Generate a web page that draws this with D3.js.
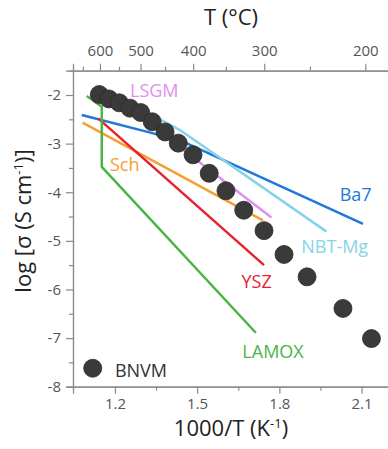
<!DOCTYPE html>
<html>
<head>
<meta charset="utf-8">
<script src="https://cdn.jsdelivr.net/npm/d3@7"></script>
<style>
  body { margin: 0; background: #fff; }
  text { font-family: "Open Sans", sans-serif; }
</style>
</head>
<body>
<script>
"use strict";

// BNVM measured points (1000/T, log sigma)
const bnvmX = [1.143, 1.178, 1.216, 1.255, 1.294, 1.336, 1.383, 1.431, 1.485, 1.544, 1.605, 1.670, 1.744, 1.817, 1.901, 2.032, 2.136];
const bnvmY = [-1.99, -2.08, -2.16, -2.27, -2.36, -2.55, -2.76, -2.99, -3.23, -3.61, -3.97, -4.37, -4.79, -5.28, -5.74, -6.39, -7.01];

// reference electrolytes
const ba7X = [1.079, 1.340, 1.461, 2.105];
const ba7Y = [-2.41, -2.79, -2.99, -4.65];
const nbtX = [1.150, 1.358, 1.437, 1.972];
const nbtY = [-1.96, -2.48, -2.72, -4.81];
const lsgmX = [1.157, 1.771];
const lsgmY = [-1.86, -4.52];
const schX = [1.082, 1.740];
const schY = [-2.57, -4.58];
const yszX = [1.139, 1.744];
const yszY = [-2.48, -5.50];
const lamoxX = [1.097, 1.152, 1.152, 1.714];
const lamoxY = [-2.02, -2.24, -3.48, -6.89];

// ticks
const xTicks = [1.2, 1.5, 1.8, 2.1];
const xMinor = [1.35, 1.65, 1.95];
const yTicks = [-8, -7, -6, -5, -4, -3, -2];
const yMinor = [-7.5, -6.5, -5.5, -4.5, -3.5, -2.5];
const tTicks = [600, 500, 400, 300, 200];
const tMinor = [650, 550, 450, 350, 250];

const w = 388, h = 449;
const svg = d3.select("body").append("svg").attr("width", w).attr("height", h);

const x = d3.scaleLinear().domain([1.047, 2.2]).range([73, 389]);
const y = d3.scaleLinear().domain([-8, -1.5]).range([386.7, 70.7]);
const invT = t => 1000 / (t + 273.15);

const axisCol = "#8a8a8a";
function styleAxis(g) {
  g.select(".domain").attr("stroke", axisCol).attr("stroke-width", 1.2);
  g.selectAll(".tick line").attr("stroke", axisCol).attr("stroke-width", 1.2);
  g.selectAll(".tick text").attr("fill", "#555").style("font-size", "15px").style("font-family", "Open Sans");
}

// bottom axis
svg.append("g").attr("transform", `translate(0,${y(-8)})`)
  .call(d3.axisBottom(x).tickValues(xMinor).tickSize(4).tickFormat(""))
  .call(styleAxis);
svg.append("g").attr("transform", `translate(0,${y(-8)})`)
  .call(d3.axisBottom(x).tickValues(xTicks).tickSize(7).tickPadding(5).tickFormat(d3.format(".1f")))
  .call(styleAxis);

// left axis
svg.append("g").attr("transform", `translate(${x(1.047)},0)`)
  .call(d3.axisLeft(y).tickValues(yMinor).tickSize(4).tickFormat(""))
  .call(styleAxis);
svg.append("g").attr("transform", `translate(${x(1.047)},0)`)
  .call(d3.axisLeft(y).tickValues(yTicks).tickSize(7).tickPadding(5).tickFormat(d => d))
  .call(styleAxis)
  .call(g => g.selectAll(".tick text").text(d => "-" + Math.abs(d)));

// top axis in degC
svg.append("g").attr("transform", `translate(0,${y(-1.5)})`)
  .call(d3.axisTop(x).tickValues(tMinor.map(invT)).tickSize(4).tickFormat(""))
  .call(styleAxis);
svg.append("g").attr("transform", `translate(0,${y(-1.5)})`)
  .call(d3.axisTop(x).tickValues(tTicks.map(invT)).tickSize(7).tickPadding(8)
    .tickFormat((d, i) => tTicks[i]))
  .call(styleAxis);

// reference lines
const line = d3.line().x(d => x(d[0])).y(d => y(d[1]));
const series = [
  { xs: ba7X, ys: ba7Y, col: "#1f78dc" },
  { xs: nbtX, ys: nbtY, col: "#84d3e8" },
  { xs: lsgmX, ys: lsgmY, col: "#de90ee" },
  { xs: schX, ys: schY, col: "#f5a030" },
  { xs: yszX, ys: yszY, col: "#e8222c" },
  { xs: lamoxX, ys: lamoxY, col: "#4cb445" }
];
svg.selectAll("path.ref").data(series).enter().append("path")
  .attr("class", "ref")
  .attr("d", s => line(s.xs.map((v, i) => [v, s.ys[i]])))
  .attr("fill", "none")
  .attr("stroke", s => s.col)
  .attr("stroke-width", 2.5)
  .attr("stroke-linejoin", "round");

// BNVM points
svg.selectAll("circle.dot").data(bnvmX.map((v, i) => [v, bnvmY[i]])).enter().append("circle")
  .attr("class", "dot")
  .attr("cx", d => x(d[0]))
  .attr("cy", d => y(d[1]))
  .attr("r", 9)
  .attr("fill", "#3a3a3a")
  .attr("stroke", "#2a2a2a")
  .attr("stroke-width", 0.8);

// labels
const labels = [
  { t: "LSGM", x: 1.255, y: -2.04, col: "#de90ee" },
  { t: "Sch", x: 1.182, y: -3.56, col: "#f5a030" },
  { t: "Ba7", x: 2.020, y: -4.17, col: "#1f78dc" },
  { t: "NBT-Mg", x: 1.880, y: -5.26, col: "#84d3e8" },
  { t: "YSZ", x: 1.662, y: -5.98, col: "#e8222c" },
  { t: "LAMOX", x: 1.665, y: -7.40, col: "#4cb445" },
  { t: "BNVM", x: 1.200, y: -7.80, col: "#333" }
];
svg.selectAll("text.lab").data(labels).enter().append("text")
  .attr("class", "lab")
  .attr("x", d => x(d.x))
  .attr("y", d => y(d.y))
  .attr("fill", d => d.col)
  .style("font-size", "18px")
  .text(d => d.t);

svg.append("circle")
  .attr("cx", x(1.119)).attr("cy", y(-7.62)).attr("r", 9)
  .attr("fill", "#3a3a3a").attr("stroke", "#2a2a2a").attr("stroke-width", 0.8);

// axis titles
svg.append("text").attr("x", 231).attr("y", 25).attr("text-anchor", "middle")
  .style("font-size", "22px").attr("fill", "#222").text("T (°C)");

const xt = svg.append("text").attr("x", 231).attr("y", 436).attr("text-anchor", "middle")
  .style("font-size", "22px").attr("fill", "#222");
xt.append("tspan").text("1000/T (K");
xt.append("tspan").attr("dy", -8).style("font-size", "13px").text("-1");
xt.append("tspan").attr("dy", 8).text(")");

const yt = svg.append("text").attr("transform", "translate(31,221) rotate(-90)")
  .attr("text-anchor", "middle").style("font-size", "22px").attr("fill", "#222");
yt.append("tspan").text("log [σ (S cm");
yt.append("tspan").attr("dy", -8).style("font-size", "13px").text("-1");
yt.append("tspan").attr("dy", 8).text(")]");
</script>
</body>
</html>
